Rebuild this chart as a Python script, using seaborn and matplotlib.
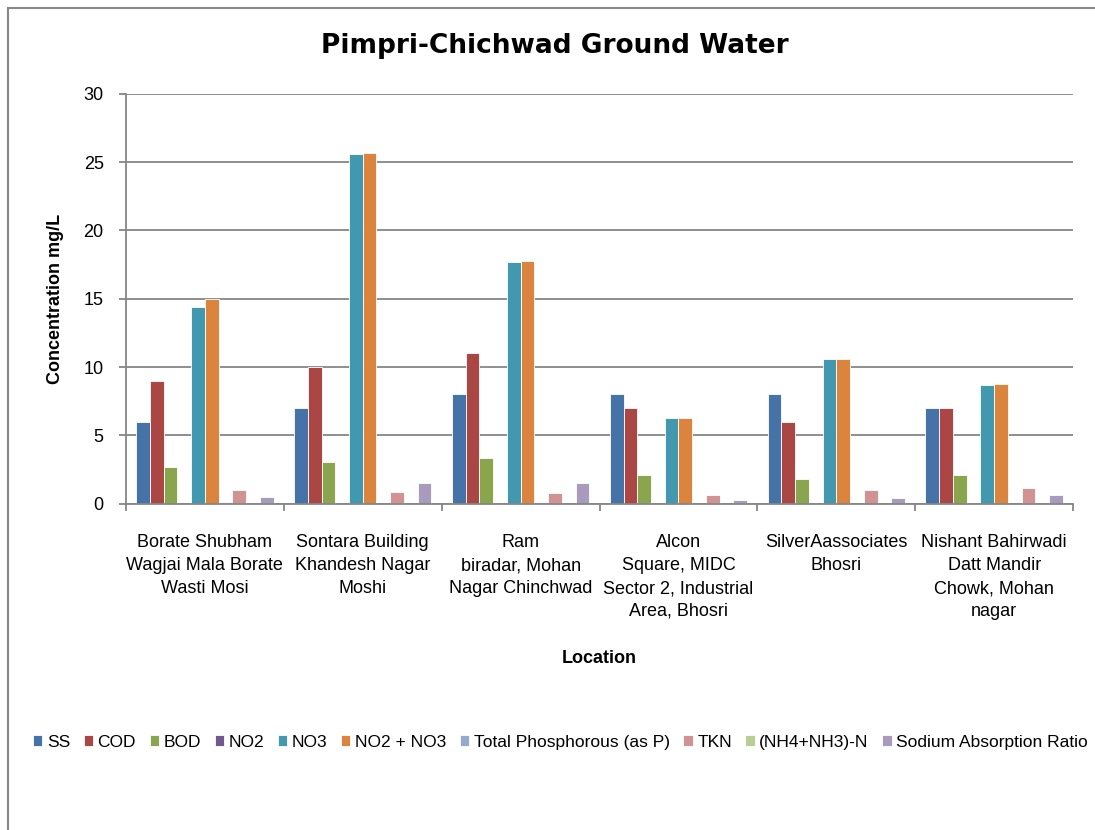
import numpy as np
import pandas as pd
import matplotlib
matplotlib.use('Agg')
import matplotlib.pyplot as plt
import seaborn as sns
from matplotlib.patches import Rectangle

# data
locations = [
    "Borate Shubham\nWagjai Mala Borate\nWasti Mosi",
    "Sontara Building\nKhandesh Nagar\nMoshi",
    "Ram\nbiradar, Mohan\nNagar Chinchwad",
    "Alcon\nSquare, MIDC\nSector 2, Industrial\nArea, Bhosri",
    "SilverAassociates\nBhosri",
    "Nishant Bahirwadi\nDatt Mandir\nChowk, Mohan\nnagar",
]
parameters = ["SS", "COD", "BOD", "NO2", "NO3", "NO2 + NO3",
              "Total Phosphorous (as P)", "TKN", "(NH4+NH3)-N",
              "Sodium Absorption Ratio"]

ss = [6, 7, 8, 8, 8, 7]
cod = [9, 10, 11, 7, 6, 7]
bod = [2.7, 3.05, 3.35, 2.1, 1.8, 2.1]
no2 = [0, 0, 0, 0, 0, 0]
no3 = [14.4, 25.6, 17.7, 6.3, 10.6, 8.7]
no2_no3 = [15.0, 25.7, 17.8, 6.3, 10.6, 8.75]
total_p = [0.15, 0.0, 0.15, 0.0, 0.0, 0.0]
tkn = [1.0, 0.9, 0.8, 0.65, 1.0, 1.15]
nh4_nh3 = [0, 0, 0, 0, 0, 0]
sar = [0.5, 1.5, 1.5, 0.3, 0.45, 0.65]

colors = ["#4572A7", "#AA4643", "#89A54E", "#71588F", "#4198AF",
          "#DB843D", "#93A9CF", "#D19392", "#B9CD96", "#A99BBD"]

series = [ss, cod, bod, no2, no3, no2_no3, total_p, tkn, nh4_nh3, sar]
rows = []
for name, vals in zip(parameters, series):
    for loc, v in zip(locations, vals):
        rows.append({"Location": loc, "Parameter": name, "Value": v})
df = pd.DataFrame(rows)

sns.set_style('white')
plt.rcParams['font.family'] = ['Liberation Sans', 'DejaVu Sans']
plt.rcParams['text.color'] = 'black'
plt.rcParams['axes.labelcolor'] = 'black'

fig = plt.figure(figsize=(10.95, 8.3), dpi=100)
ax = fig.add_axes([0.115, 0.393, 0.865, 0.494])

sns.barplot(data=df, x="Location", y="Value", hue="Parameter",
            order=locations, hue_order=parameters, palette=colors,
            saturation=1, width=0.87, gap=0, errorbar=None,
            edgecolor='white', linewidth=0.6, ax=ax)

grid_col = '#868686'
ax.set_ylim(0, 30)
ax.set_xlim(-0.5, len(locations) - 0.5)
ax.set_yticks(np.arange(0, 31, 5))
ax.yaxis.grid(True, color=grid_col, linewidth=1.3)
ax.set_axisbelow(True)
for s in ['top', 'right']:
    ax.spines[s].set_visible(False)
for s in ['left', 'bottom']:
    ax.spines[s].set_color(grid_col)
    ax.spines[s].set_linewidth(1.3)

ax.tick_params(axis='y', left=True, length=5, color=grid_col, width=1.3,
               labelsize=13, pad=11, labelcolor='black')
ax.set_xticks(np.arange(len(locations)))
ax.set_xticklabels(locations, fontsize=13, linespacing=1.45)
ax.set_xticks(np.arange(-0.5, len(locations)), minor=True)
ax.tick_params(axis='x', which='major', length=0, pad=22, labelcolor='black')
ax.tick_params(axis='x', which='minor', bottom=True, length=5,
               color=grid_col, width=1.3)

ax.set_xlabel("Location", fontsize=13, fontweight='bold', labelpad=22)
ax.set_ylabel("Concentration mg/L", fontsize=13, fontweight='bold', labelpad=14)
fig.text(0.507, 0.945, "Pimpri-Chichwad Ground Water", ha='center', va='center',
         fontsize=19, fontweight='bold', family='DejaVu Sans', color='black')

handles, labels = ax.get_legend_handles_labels()
ax.get_legend().remove()
fig.legend(handles, labels, loc='center left', bbox_to_anchor=(0.030, 0.106),
           ncol=10, frameon=False, fontsize=12.5, handlelength=0.54,
           handleheight=0.54, handletextpad=0.265, columnspacing=0.78,
           borderaxespad=0, borderpad=0, labelcolor='black')

# outer chart frame (right and bottom edges run off the image)
fig.patches.append(Rectangle((8 / 1095, -0.1), 1.2, 1.1 - 8 / 830,
                             transform=fig.transFigure, fill=False,
                             edgecolor=grid_col, linewidth=1.5))

fig.savefig("out.png", dpi=100)
